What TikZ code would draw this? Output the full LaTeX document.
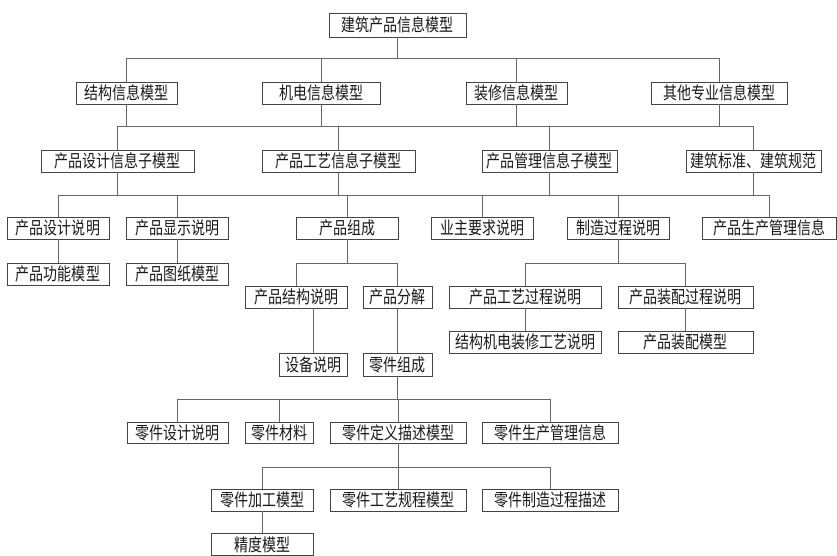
\documentclass[tikz,border=0pt]{standalone}
\usepackage{fontspec}
\newfontfamily\cjk[FakeStretch=0.8]{Noto Sans CJK SC}
\definecolor{boxline}{HTML}{444444}
\definecolor{conline}{HTML}{666666}
\begin{document}
\begin{tikzpicture}[x=1pt,y=-1pt,
  box/.style={draw=boxline,line width=0.9pt,fill=white,minimum height=22pt,inner sep=0pt,
    font=\cjk\fontsize{17.5}{18}\selectfont,text=black!90},
  con/.style={draw=conline,line width=0.8pt}]
\useasboundingbox (0,0) rectangle (837,556);
% nodes
\node[box,minimum width=137,minimum height=24] (top) at (397.5,25) {建筑产品信息模型};
\node[box,minimum width=101] (jg) at (126.5,93) {结构信息模型};
\node[box,minimum width=118] (jd) at (321,93) {机电信息模型};
\node[box,minimum width=101] (zx) at (516.5,93) {装修信息模型};
\node[box,minimum width=136] (qt) at (719,93) {其他专业信息模型};
\node[box,minimum width=153] (sj) at (117.5,161) {产品设计信息子模型};
\node[box,minimum width=153] (gy) at (338.5,161) {产品工艺信息子模型};
\node[box,minimum width=135] (gl) at (549.5,161) {产品管理信息子模型};
\node[box,minimum width=135] (bz) at (753.5,161) {建筑标准、建筑规范};
\node[box,minimum width=102] (sjsm) at (58,228) {产品设计说明};
\node[box,minimum width=102] (xssm) at (177,228) {产品显示说明};
\node[box,minimum width=102] (zc) at (347,228) {产品组成};
\node[box,minimum width=102] (yz) at (482,228) {业主要求说明};
\node[box,minimum width=102] (zz) at (618,228) {制造过程说明};
\node[box,minimum width=134] (scgl) at (769,228) {产品生产管理信息};
\node[box,minimum width=102] (gn) at (58,274) {产品功能模型};
\node[box,minimum width=102] (tz) at (177,274) {产品图纸模型};
\node[box,minimum width=102] (jgsm) at (296,297) {产品结构说明};
\node[box,minimum width=69] (fj) at (397.5,297) {产品分解};
\node[box,minimum width=152] (gygc) at (525,297) {产品工艺过程说明};
\node[box,minimum width=135] (zpgc) at (685.5,297) {产品装配过程说明};
\node[box,minimum width=152] (jdzx) at (525,342) {结构机电装修工艺说明};
\node[box,minimum width=135] (zpmx) at (685.5,342) {产品装配模型};
\node[box,minimum width=68,minimum height=23] (sb) at (313,364.5) {设备说明};
\node[box,minimum width=69,minimum height=23] (ljzc) at (397.5,364.5) {零件组成};
\node[box,minimum width=101,minimum height=21] (ljsj) at (177.5,432.5) {零件设计说明};
\node[box,minimum width=68,minimum height=21] (ljcl) at (279,432.5) {零件材料};
\node[box,minimum width=136,minimum height=21] (ljdy) at (398,432.5) {零件定义描述模型};
\node[box,minimum width=136,minimum height=21] (ljsc) at (550,432.5) {零件生产管理信息};
\node[box,minimum width=102] (ljjg) at (262,500) {零件加工模型};
\node[box,minimum width=136] (ljgy) at (398,500) {零件工艺规程模型};
\node[box,minimum width=136] (ljzz) at (550,500) {零件制造过程描述};
\node[box,minimum width=102] (jdmx) at (262,544.5) {精度模型};
% bus coordinates
\coordinate (b1) at (0,58);
\coordinate (b2) at (0,126);
\coordinate (b3) at (0,195);
\coordinate (b4) at (0,263);
\coordinate (b5) at (0,399);
\coordinate (b6) at (0,467);
% level 1
\draw[con] (top.south) -- (top.south |- b1);
\draw[con] (jg.north |- b1) -- (qt.north |- b1);
\foreach \n in {jg,jd,zx,qt} \draw[con] (\n.north) -- (\n.north |- b1);
% level 2
\draw[con] (sj.north |- b2) -- (bz.north |- b2);
\foreach \n in {jg,jd,zx,qt} \draw[con] (\n.south) -- (\n.south |- b2);
\foreach \n in {sj,gy,gl,bz} \draw[con] (\n.north) -- (\n.north |- b2);
% level 3
\draw[con] (sjsm.north |- b3) -- (scgl.north |- b3);
\foreach \n in {sj,gy,gl,bz} \draw[con] (\n.south) -- (\n.south |- b3);
\foreach \n in {sjsm,xssm,zc,yz,zz,scgl} \draw[con] (\n.north) -- (\n.north |- b3);
% simple verticals
\draw[con] (sjsm.south) -- (gn.north);
\draw[con] (xssm.south) -- (tz.north);
% product composition
\draw[con] (zc.south) -- (zc.south |- b4);
\draw[con] (jgsm.north |- b4) -- (fj.north |- b4);
\foreach \n in {jgsm,fj} \draw[con] (\n.north) -- (\n.north |- b4);
\draw[con] (sb.north) -- (sb.north |- jgsm.south);
\draw[con] (fj.south) -- (ljzc.north);
% manufacturing process
\draw[con] (zz.south) -- (zz.south |- b4);
\draw[con] (gygc.north |- b4) -- (zpgc.north |- b4);
\foreach \n in {gygc,zpgc} \draw[con] (\n.north) -- (\n.north |- b4);
\draw[con] (gygc.south) -- (jdzx.north);
\draw[con] (zpgc.south) -- (zpmx.north);
% parts
\draw[con] (ljzc.south) -- (ljzc.south |- b5);
\draw[con] (ljsj.north |- b5) -- (ljsc.north |- b5);
\foreach \n in {ljsj,ljcl,ljdy,ljsc} \draw[con] (\n.north) -- (\n.north |- b5);
\draw[con] (ljdy.south) -- (ljdy.south |- b6);
\draw[con] (ljjg.north |- b6) -- (ljzz.north |- b6);
\foreach \n in {ljjg,ljgy,ljzz} \draw[con] (\n.north) -- (\n.north |- b6);
\draw[con] (ljjg.south) -- (jdmx.north);
\end{tikzpicture}
\end{document}
